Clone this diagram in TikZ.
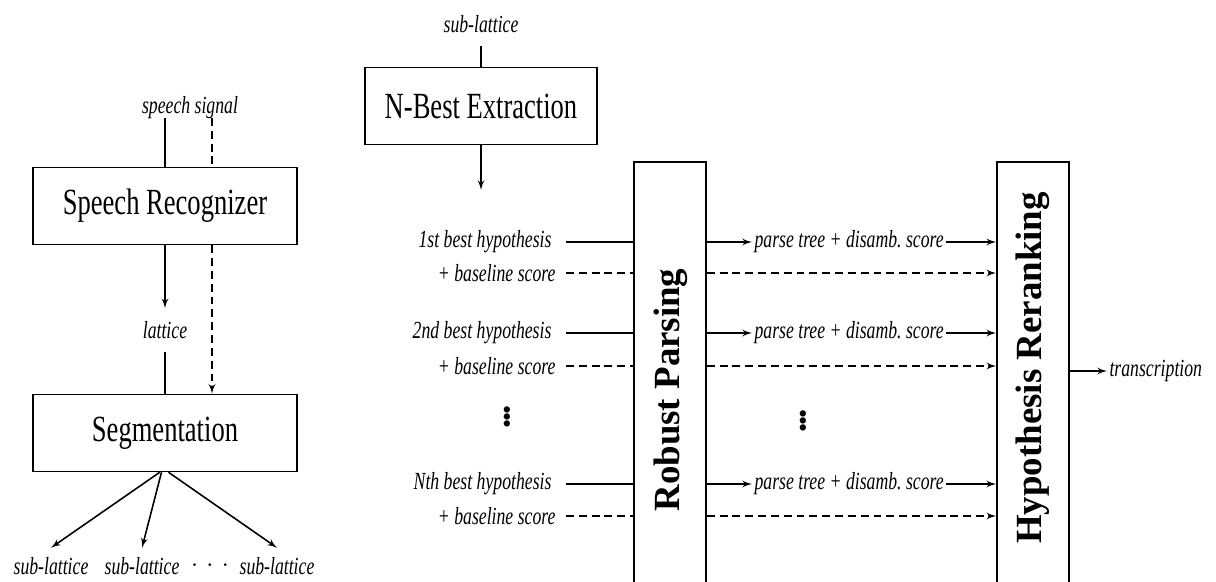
\documentclass[tikz,border=0pt]{standalone}
\usepackage{fontspec}
\setmainfont{Liberation Serif}
\newfontfamily\narrowfont{Liberation Serif}[FakeStretch=0.72]
\usetikzlibrary{arrows, positioning}

\begin{document}
\begin{tikzpicture}[%
	x=0.02cm, y=-0.02cm,        % one unit is one pixel of the layout
	>=latex',
	line width=0.9pt,
	every node/.style={font=\narrowfont},
	]
	% -------------------------------------------------
	% Box and label styles
	\tikzset{
		box/.style={draw, minimum height=1.54cm, font=\narrowfont\fontsize{21}{24}\selectfont},
		tall/.style={draw, minimum width=1.44cm, minimum height=8.76cm},
		vert/.style={rotate=90, font=\bfseries\fontsize{21}{24}\selectfont},
		lbl/.style={inner sep=1pt, font=\narrowfont\itshape\fontsize{14}{16}\selectfont},
		vdot/.style={inner sep=0pt, font=\bfseries\fontsize{22}{24}\selectfont},
		dsh/.style={dashed, dash pattern=on 4.5pt off 2.8pt},
	}
	\useasboundingbox (0,0) rectangle (1216,581);

	% ------------------------------------------------- left column
	\node[lbl]							(sig)	at (190,108)	{speech signal};
	\node[box, minimum width=5.28cm]	(rec)	at (165,206)	{Speech Recognizer};
	\node[lbl, inner ysep=7pt]			(lat)	at (165,330)	{lattice};
	\node[box, minimum width=5.28cm]	(seg)	at (165,433)	{Segmentation};
	\coordinate (dtop) at (212,118);

	\draw (rec.north |- dtop) -- (rec.north);
	\draw[dsh] (dtop) -- (dtop |- rec.north);
	\draw[->] (rec.south) -- (lat.north);
	\draw (lat.south) -- (seg.north);
	\draw[dsh, ->] (dtop |- rec.south) -- (dtop |- seg.north);

	\node[lbl]	(s1)	at (51,566)		{sub-lattice};
	\node[lbl]	(s2)	at (142,566)	{sub-lattice};
	\node[lbl]	(sdots)	at (210,566)	{${\cdot}\,\,{\cdot}\,\,{\cdot}$};
	\node[lbl]	(s3)	at (277,566)	{sub-lattice};

	\draw[->] ([xshift=-3pt]seg.south) -- ([yshift=4pt]s1.north);
	\draw[->] ([xshift=-2pt]seg.south) -- ([yshift=4pt]s2.north);
	\draw[->] ([xshift=2pt]seg.south) -- ([yshift=4pt]s3.north);

	% ------------------------------------------------- n-best
	\node[lbl]							(sub)	at (481,24)		{sub-lattice};
	\node[box, minimum width=4.64cm]	(nbest)	at (481,106)	{N-Best Extraction};
	\coordinate (nend) at (481,190);

	\draw ([yshift=-6pt]sub.south) -- (nbest.north);
	\draw[->] (nbest.south) -- (nend);

	% ------------------------------------------------- parsing and reranking
	\node[tall]	(parse)		at (670,381)	{};
	\node[vert]	(ptext)		at (671,390)	{Robust Parsing};
	\node[tall]	(rerank)	at (1033,381)	{};
	\node[vert]	(rtext)		at (1033,368)	{Hypothesis Reranking};

	\coordinate (lin) at (566,0);

	\node[lbl, anchor=east]	(h1)	at (554,242)	{1st best hypothesis};
	\node[lbl, anchor=east]	(b1)	at (558,273)	{+ baseline score};
	\node[lbl, anchor=east]	(h2)	at (554,333)	{2nd best hypothesis};
	\node[lbl, anchor=east]	(b2)	at (558,366)	{+ baseline score};
	\node[lbl, anchor=east]	(hN)	at (554,484)	{Nth best hypothesis};
	\node[lbl, anchor=east]	(bN)	at (558,516)	{+ baseline score};
	\node[vdot]				(v1)	at (507,412)	{$\vdots$};

	\draw (lin |- h1) -- (parse.west |- h1);
	\draw[dsh] (lin |- b1) -- (parse.west |- b1);
	\draw (lin |- h2) -- (parse.west |- h2);
	\draw[dsh] (lin |- b2) -- (parse.west |- b2);
	\draw (lin |- hN) -- (parse.west |- hN);
	\draw[dsh] (lin |- bN) -- (parse.west |- bN);

	\node[lbl, anchor=west]	(t1)	at (752,242)	{parse tree + disamb.\ score};
	\node[lbl, anchor=west]	(t2)	at (752,333)	{parse tree + disamb.\ score};
	\node[lbl, anchor=west]	(tN)	at (752,484)	{parse tree + disamb.\ score};
	\node[vdot]				(v2)	at (803,416)	{$\vdots$};

	\draw[->] (parse.east |- t1) -- (t1.west);
	\draw[->] (t1.east) -- (rerank.west |- t1);
	\draw[dsh, ->] (parse.east |- b1) -- (rerank.west |- b1);
	\draw[->] (parse.east |- t2) -- (t2.west);
	\draw[->] (t2.east) -- (rerank.west |- t2);
	\draw[dsh, ->] (parse.east |- b2) -- (rerank.west |- b2);
	\draw[->] (parse.east |- tN) -- (tN.west);
	\draw[->] (tN.east) -- (rerank.west |- tN);
	\draw[dsh, ->] (parse.east |- bN) -- (rerank.west |- bN);

	\node[lbl, anchor=west]	(out)	at (1107,371)	{transcription};
	\draw[->] (rerank.east |- out) -- (out.west);

\end{tikzpicture}
\end{document}
